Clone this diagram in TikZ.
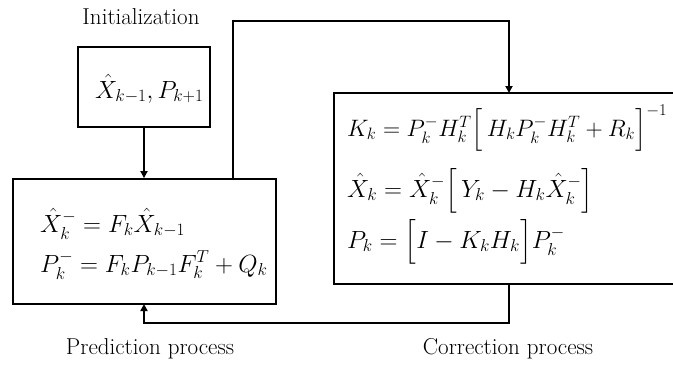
\documentclass[tikz,border=0pt]{standalone}
\usepackage{amsmath}
\usetikzlibrary{arrows.meta}
\begin{document}
\begin{tikzpicture}[x=1pt,y=-1pt,
  box/.style={draw,line width=1.8pt,rectangle,inner sep=0pt},
  conn/.style={line width=2.6pt,-{Triangle[length=7pt,width=7pt]}},
  lbl/.style={font=\fontsize{23}{27}\selectfont,inner sep=0pt},
  eq/.style={font=\fontsize{24}{28}\selectfont,inner sep=0pt,anchor=base west},
  ceq/.style={eq,font=\fontsize{23}{27}\selectfont}]
\useasboundingbox (0,0) rectangle (673,365);
% boxes
\node[box,minimum width=132pt,minimum height=80pt] (init) at (144,87) {};
\node[box,minimum width=263pt,minimum height=125pt] (pred) at (144.5,241.5) {};
\node[box,minimum width=356pt,minimum height=191pt] (corr) at (512,188.5) {};
% labels
\node[lbl] (linit) at (141,17) {Initialization};
\node[lbl] (lpred) at (150,349) {Prediction process};
\node[lbl] (lcorr) at (508,349) {Correction process};
% equations
\node[eq] (e0) at (95,98) {$\hat{X}_{k-1},P_{k+1}$};
\node[eq] (e1) at (40,232) {$\hat{X}_k^- = F_k\hat{X}_{k-1}$};
\node[eq] (e2) at (40,272) {$P_k^- = F_kP_{k-1}F_k^T + Q_k$};
\node[ceq] (e3) at (347,136) {\scalebox{0.955}{$K_k = P_k^- H_k^T \Bigl[\, H_k P_k^- H_k^T + R_k \Bigr]^{-1}$}};
\node[ceq] (e4) at (347,197) {$\hat{X}_k = \hat{X}_k^- \Bigl[\, Y_k - H_k\hat{X}_k^- \Bigr]$};
\node[ceq] (e5) at (347,248) {$P_k = \Bigl[ I - K_kH_k \Bigr] P_k^-$};
% connector coordinates
\coordinate (pout) at (233,179);
\coordinate (t1) at (233,21);
\coordinate (t2) at (509,21);
\coordinate (cin) at (509,93);
\coordinate (cout) at (509,284.5);
\coordinate (b1) at (509,323);
\coordinate (b2) at (144,323);
\coordinate (pin) at (144,304);
% connectors
\draw[conn] (init.south) -- (init.south |- pred.north);
\draw[conn] (pout) -- (t1) -- (t2) -- (cin);
\draw[conn] (cout) -- (b1) -- (b2) -- (pin);
\end{tikzpicture}
\end{document}
